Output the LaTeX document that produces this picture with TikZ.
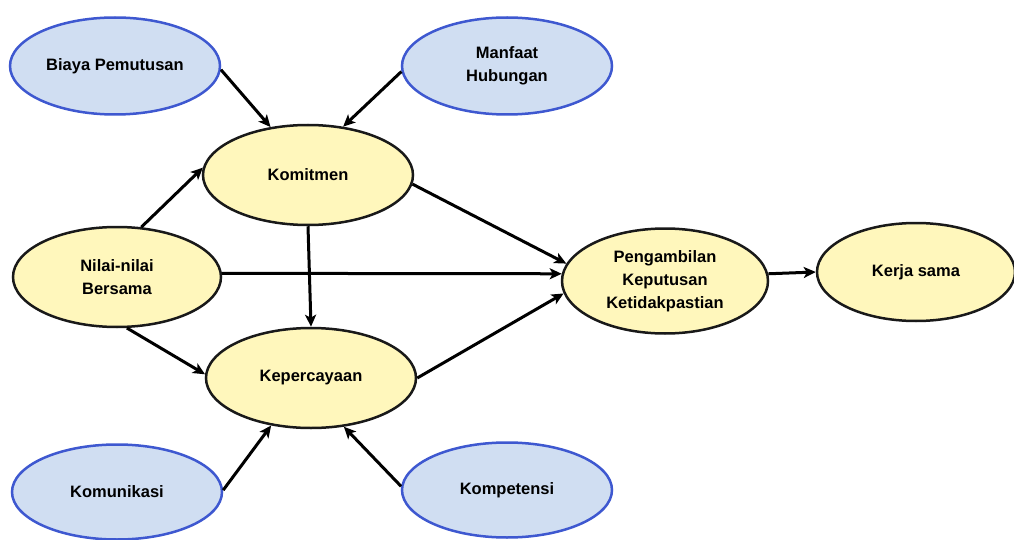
\documentclass[tikz,border=0pt]{standalone}
\usepackage{fontspec}
\setmainfont{Liberation Sans}
\usetikzlibrary{shapes.geometric,arrows.meta}
\definecolor{bluefill}{RGB}{208,222,242}
\definecolor{blueline}{RGB}{62,88,208}
\definecolor{yellowfill}{RGB}{255,247,188}
\begin{document}
\begin{tikzpicture}[
		x=1pt, y=-1pt,
		outer/.style={ellipse, draw=blueline, fill=bluefill, line width=2.5pt, minimum width=210pt, minimum height=97pt, align=center, font=\bfseries\fontsize{16.5}{23}\selectfont, inner sep=0pt},
		inner/.style={ellipse, draw=black!90, fill=yellowfill, line width=2.5pt, minimum width=210pt, minimum height=100pt, align=center, font=\bfseries\fontsize{16.5}{23}\selectfont, inner sep=0pt},
		link/.style={line width=3pt, -{Stealth[length=12pt,width=11pt,inset=3pt]}}
		]
		
		% Frame of the picture
		\useasboundingbox (0,0) rectangle (1014,540);
		
		% Outer factors
		\node[outer] (biaya) at (115,66) {Biaya Pemutusan};
		\node[outer] (manfaat) at (507,66) {Manfaat\\Hubungan};
		\node[outer, minimum height=95pt] (komunikasi) at (117,492) {Komunikasi};
		\node[outer, minimum height=95pt] (kompetensi) at (507,490) {Kompetensi};
		
		% Core
		\node[inner] (komitmen) at (308,175) {Komitmen};
		\node[inner, minimum width=208pt] (nilai) at (117,277) {Nilai-nilai\\Bersama};
		\node[inner] (percaya) at (311,378) {Kepercayaan};
		\node[inner, minimum width=206pt, minimum height=105pt] (ambil) at (665,281) {Pengambilan\\Keputusan\\Ketidakpastian};
		\node[inner, minimum width=198pt, minimum height=98pt] (kerja) at (916,272) {Kerja sama};
		
		% Arrows
		\draw[link] (biaya.-2) -- (komitmen.128);
		\draw[link] (manfaat.183) -- (komitmen.54);
		\draw[link] (nilai.64) -- (komitmen.176);
		\draw[link] (nilai.2) -- (ambil.176);
		\draw[link] (nilai.-79) -- (percaya.178);
		\draw[link] (komitmen.south) -- (percaya.north);
		\draw[link] (komitmen.-5) -- (ambil.170);
		\draw[link] (percaya.0) -- (ambil.187);
		\draw[link] (ambil.4) -- (kerja.180);
		\draw[link] (komunikasi.1) -- (percaya.230);
		\draw[link] (kompetensi.178) -- (percaya.-56);
	\end{tikzpicture}
\end{document}
